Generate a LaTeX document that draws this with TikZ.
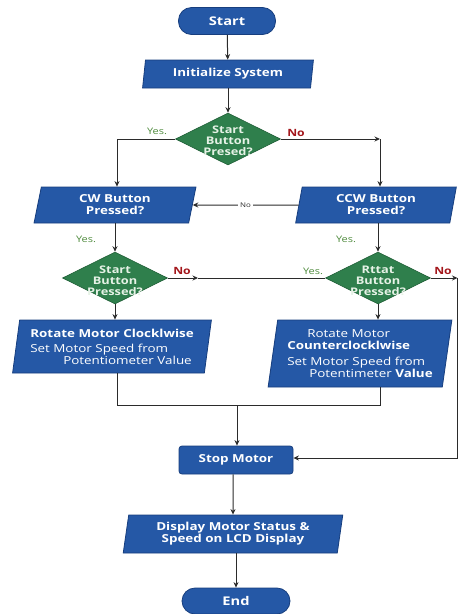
\documentclass[tikz,border=0pt]{standalone}
\usepackage{fontspec}
\setmainfont{Open Sans}[FakeStretch=1.22]
\usetikzlibrary{shapes.geometric,arrows.meta}
\definecolor{fblue}{HTML}{2558A6}
\definecolor{dblue}{HTML}{173E7E}
\definecolor{fgreen}{HTML}{2F7F4C}
\definecolor{dgreen}{HTML}{1F5E36}
\definecolor{lgreen}{HTML}{4E8A3C}
\definecolor{nred}{HTML}{A3161B}
\definecolor{lgray}{HTML}{2B2B2B}
\definecolor{dtext}{HTML}{E6F2E6}
\begin{document}
\begin{tikzpicture}[x=1pt,y=-1pt,
  every node/.style={font=\bfseries\fontsize{11}{12}\selectfont},
  term/.style={rectangle, rounded corners=13pt, fill=fblue, draw=dblue, line width=0.8pt, text=white, font=\bfseries\fontsize{12}{13}\selectfont, inner sep=0pt},
  para/.style={trapezium, trapezium left angle=80, trapezium right angle=100, trapezium stretches=true, fill=fblue, draw=dblue, line width=0.8pt, text=white, inner sep=0pt, align=center},
  procbox/.style={rectangle, rounded corners=3pt, fill=fblue, draw=dblue, line width=0.8pt, text=white, inner sep=0pt},
  dia/.style={diamond, fill=fgreen, draw=dgreen, line width=0.6pt, minimum width=105pt, minimum height=52pt, inner sep=0pt},
  diatext/.style={text=dtext, align=center, font=\bfseries\fontsize{10.5}{11}\selectfont, inner sep=0pt},
  yeslbl/.style={text=lgreen, font=\fontsize{9}{10}\selectfont, inner sep=1pt},
  nolbl/.style={text=nred, font=\bfseries\fontsize{10}{11}\selectfont, inner sep=1pt},
  line/.style={draw=lgray, line width=1pt},
  arr/.style={draw=lgray, line width=1pt, -{Stealth[length=5.5pt,width=5pt]}}
]
\useasboundingbox (0,0) rectangle (459,614);

% nodes
\node[term, minimum width=97pt, minimum height=27pt] (start) at (227,21) {Start};
\node[para, minimum width=171pt, minimum height=28pt] (init) at (228,74) {Initialize System};
\node[dia] (d1) at (228,139) {};
\node[diatext] (d1t) at (228,141) {Start\\Button\\Presed?};
\node[para, minimum width=162pt, minimum height=36pt] (cw) at (115,205) {CW Button\\Pressed?};
\node[para, minimum width=162pt, minimum height=36pt] (ccw) at (376,205) {CCW Button\\Pressed?};
\node[dia] (d2) at (115,278) {};
\node[diatext] (d2t) at (115,281) {Start\\Button\\Pressed?};
\node[dia] (d3) at (378,278) {};
\node[diatext] (d3t) at (378,281) {Rttat\\Button\\Pressed?};
\node[para, minimum width=199pt, minimum height=53pt, align=left] (rcw) at (112,346.5)
  {Rotate Motor Clocklwise\\[3pt]
   {\mdseries Set Motor Speed from}\\
   \hspace*{33pt}{\mdseries Potentiometer Value}};
\node[para, minimum width=184pt, minimum height=67pt, align=left] (rccw) at (360,353.5)
  {\hspace*{20pt}{\mdseries Rotate Motor}\\
   Counterclocklwise\\[4pt]
   {\mdseries Set Motor Speed from}\\
   \hspace*{22pt}{\mdseries Potentimeter} Value};
\node[procbox, minimum width=114pt, minimum height=28pt] (stop) at (236,460) {Stop Motor};
\node[para, minimum width=220pt, minimum height=38pt] (disp) at (233,534) {Display Motor Status \&\\Speed on LCD Display};
\node[term, minimum width=108pt, minimum height=26pt] (end) at (236,601) {End};

% helper coordinates
\coordinate (c1) at (117,139);
\coordinate (c2) at (380,139);
\coordinate (c3) at (198,278);
\coordinate (c4) at (457.5,278);
\coordinate (c5) at (457.5,458);
\coordinate (j1) at (117,405);
\coordinate (j2) at (380,405);
\coordinate (j3) at (237,405);

% connectors
\draw[arr] (start) -- (init);
\draw[arr] (init.south -| d1) -- (d1.north);
\draw[line] (d1.west) -- (c1);
\draw[arr] (c1) -- (c1 |- cw.north);
\draw[arr] (d1.east) -- (c2);
\draw[arr] (c2) -- (c2 |- ccw.north);
\draw[arr] (ccw.west) -- node[fill=white, text=lgray, font=\fontsize{6.5}{7}\selectfont, inner sep=2pt] (nomid) {No} (cw.east);
\draw[arr] (cw.south -| d2) -- (d2.north);
\draw[arr] (ccw.south -| d3) -- (d3.north);
\draw[arr] (d2.east) -- (c3);
\draw[line] (c3) -- (d3.west);
\draw[arr] (d3.east) -- (c4);
\draw[line] (c4) -- (c5);
\draw[arr] (c5) -- (stop.east |- c5);
\draw[arr] (d2.south) -- (rcw.north -| d2);
\draw[arr] (d3.south) -- (rccw.north -| d3);
\draw[line] (rcw.south -| j1) -- (j1) -- (j2) -- (rccw.south -| j2);
\draw[arr] (j3) -- (stop.north -| j3);
\draw[arr] (stop.south -| disp) -- (disp.north);
\draw[arr] (disp.south -| end) -- (end.north);

% labels
\node[yeslbl] (y1) at (157,131) {Yes.};
\node[nolbl] (n1) at (296,133) {No};
\node[yeslbl] (y2) at (86,239) {Yes.};
\node[yeslbl] (y3) at (346,239) {Yes.};
\node[nolbl] (n2) at (182,271) {No};
\node[yeslbl] (y4) at (313,271) {Yes.};
\node[nolbl] (n3) at (443,271) {No};
\end{tikzpicture}
\end{document}
